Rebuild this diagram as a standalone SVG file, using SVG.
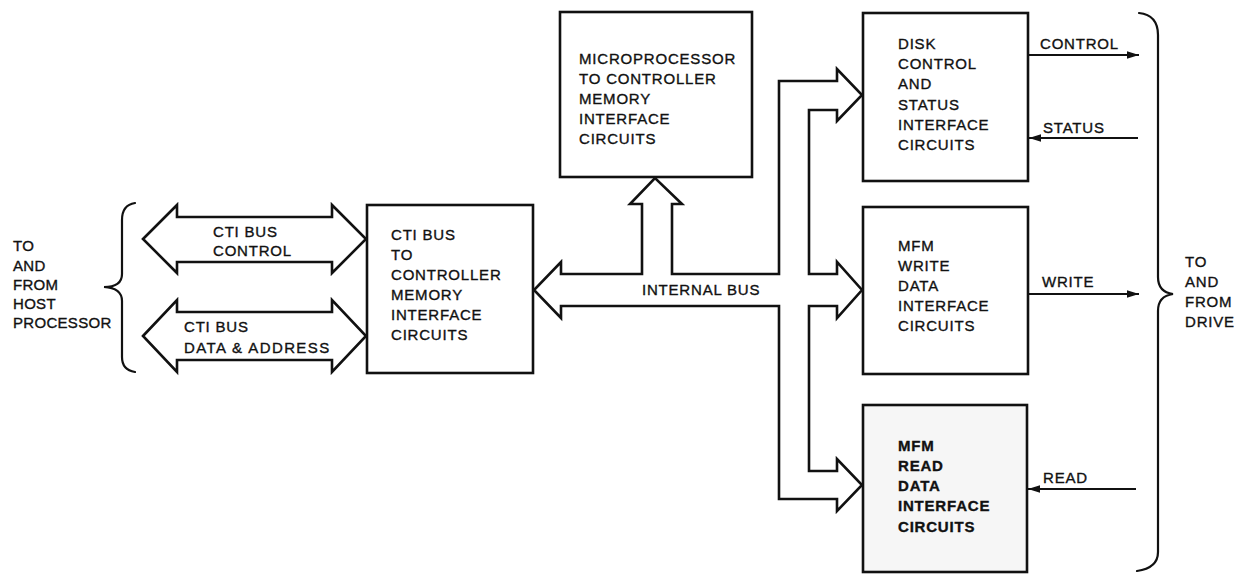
<svg xmlns="http://www.w3.org/2000/svg" width="1241" height="574" viewBox="0 0 1241 574">
<defs>
<style>
.box{fill:#fff;stroke:#111;stroke-width:2.6}
.t{font-family:"Liberation Sans",Arial,sans-serif;font-size:15px;letter-spacing:0.8px;fill:#111;stroke:#111;stroke-width:0.35}
.b{font-weight:bold}
.bus{fill:#fff;stroke:#111;stroke-width:2.6;stroke-linejoin:miter}
.sig{stroke:#111;stroke-width:2.2;fill:none}
.brace{fill:none;stroke:#111;stroke-width:2.2;stroke-linecap:round}
</style>
<marker id="ah" markerWidth="13" markerHeight="9" refX="12" refY="4.5" orient="auto" markerUnits="userSpaceOnUse">
<path d="M0,0.8 L12,4.5 L0,8.2 Z" fill="#111"/>
</marker>
</defs>
<rect width="1241" height="574" fill="#fff"/>

<g id="host-label">
<text class="t" x="13" y="251" style="letter-spacing:0.3px">TO</text>
<text class="t" x="13" y="271" style="letter-spacing:0.3px">AND</text>
<text class="t" x="13" y="290" style="letter-spacing:0.3px">FROM</text>
<text class="t" x="13" y="309" style="letter-spacing:0.3px">HOST</text>
<text class="t" x="13" y="328" style="letter-spacing:0.3px">PROCESSOR</text>
<path class="brace" d="M135,203 Q122,205 122,220 L122,274 Q122,287 104,287 Q122,288 122,301 L122,357 Q122,370 135,372"/>
</g>

<g id="connectors">
<path class="bus" d="M143,239 L177,205 L177,217 L332,217 L332,205 L366,239 L332,273 L332,262 L177,262 L177,273 Z"/>
<path class="bus" d="M143,336 L177,300 L177,312 L332,312 L332,300 L366,336 L332,372 L332,360 L177,360 L177,372 Z"/>
<path class="bus" d="M561,274 L642,274 L642,204 L630,204 L655,178 L682,204 L672,204 L672,274 L779,274 L779,81 L837,81 L837,69 L862,95 L837,121 L837,110 L809,110 L809,274 L837,274 L837,262 L862,290 L837,318 L837,306 L809,306 L809,471 L837,471 L837,459 L862,485 L837,511 L837,499 L779,499 L779,306 L561,306 L561,318 L534,290 L561,262 Z"/>
<line class="sig" x1="1029" y1="55" x2="1139" y2="55" marker-end="url(#ah)"/>
<line class="sig" x1="1138" y1="138" x2="1029" y2="138" marker-end="url(#ah)"/>
<line class="sig" x1="1029" y1="294" x2="1139" y2="294" marker-end="url(#ah)"/>
<line class="sig" x1="1136" y1="489" x2="1028" y2="489" marker-end="url(#ah)"/>
</g>

<g id="bus-labels">
<text class="t" x="213" y="237">CTI BUS</text>
<text class="t" x="213" y="256">CONTROL</text>
<text class="t" x="184" y="332">CTI BUS</text>
<text class="t" x="184" y="353" style="letter-spacing:1.4px">DATA &amp; ADDRESS</text>
<text class="t" x="642" y="295">INTERNAL BUS</text>
<text class="t" x="1040" y="49">CONTROL</text>
<text class="t" x="1043" y="133">STATUS</text>
<text class="t" x="1042" y="287">WRITE</text>
<text class="t" x="1043" y="483">READ</text>
</g>

<g id="cti-interface">
<rect class="box" x="367" y="205" width="166" height="168"/>
<text class="t" x="391" y="240">CTI BUS</text>
<text class="t" x="391" y="260">TO</text>
<text class="t" x="391" y="280">CONTROLLER</text>
<text class="t" x="391" y="300">MEMORY</text>
<text class="t" x="391" y="320">INTERFACE</text>
<text class="t" x="391" y="340">CIRCUITS</text>
</g>

<g id="microprocessor">
<rect class="box" x="560" y="12" width="192" height="165"/>
<text class="t" x="579" y="64">MICROPROCESSOR</text>
<text class="t" x="579" y="84">TO CONTROLLER</text>
<text class="t" x="579" y="104">MEMORY</text>
<text class="t" x="579" y="124">INTERFACE</text>
<text class="t" x="579" y="144">CIRCUITS</text>
</g>

<g id="disk-control">
<rect class="box" x="863" y="13" width="165" height="168"/>
<text class="t" x="898" y="49">DISK</text>
<text class="t" x="898" y="69">CONTROL</text>
<text class="t" x="898" y="89">AND</text>
<text class="t" x="898" y="110">STATUS</text>
<text class="t" x="898" y="130">INTERFACE</text>
<text class="t" x="898" y="150">CIRCUITS</text>
</g>

<g id="mfm-write">
<rect class="box" x="863" y="207" width="165" height="167"/>
<text class="t" x="898" y="251">MFM</text>
<text class="t" x="898" y="271">WRITE</text>
<text class="t" x="898" y="291">DATA</text>
<text class="t" x="898" y="311">INTERFACE</text>
<text class="t" x="898" y="331">CIRCUITS</text>
</g>

<g id="mfm-read">
<rect class="box" x="863" y="405" width="164" height="167" style="fill:#f6f6f6"/>
<text class="t b" x="898" y="451">MFM</text>
<text class="t b" x="898" y="471">READ</text>
<text class="t b" x="898" y="491">DATA</text>
<text class="t b" x="898" y="511">INTERFACE</text>
<text class="t b" x="898" y="532">CIRCUITS</text>
</g>

<g id="drive-label">
<path class="brace" d="M1139,13 Q1158,15 1158,35 L1158,277 Q1158,292 1173,294 Q1158,296 1158,311 L1158,552 Q1158,568 1137,571"/>
<text class="t" x="1185" y="267">TO</text>
<text class="t" x="1185" y="287">AND</text>
<text class="t" x="1185" y="307">FROM</text>
<text class="t" x="1185" y="327">DRIVE</text>
</g>
</svg>
